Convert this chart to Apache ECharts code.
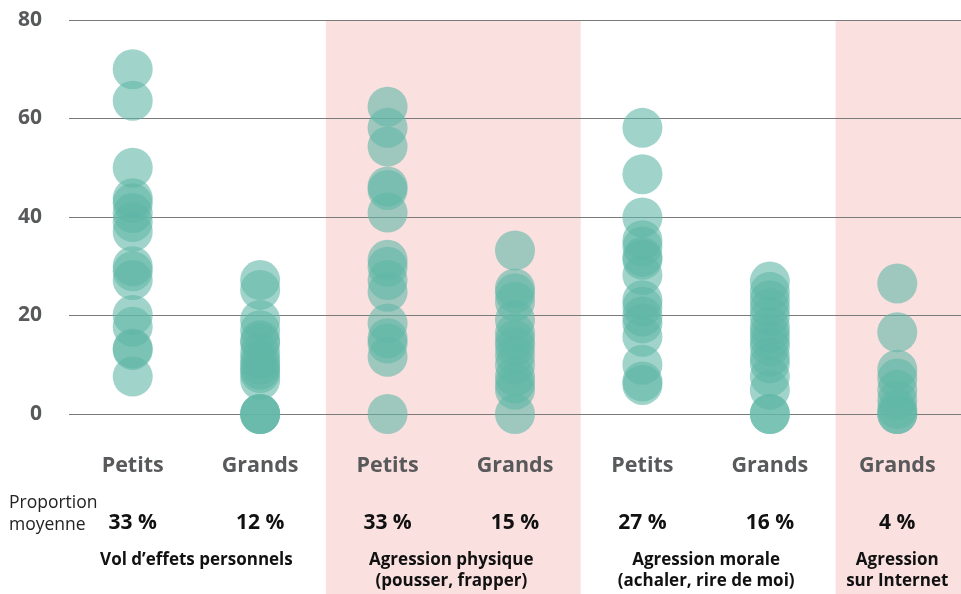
<!DOCTYPE html>
<html>
<head>
<meta charset="utf-8">
<script src="https://cdn.jsdelivr.net/npm/echarts@6/dist/echarts.min.js"></script>
<style>
html,body{margin:0;padding:0;background:#fff;}
#chart{width:961px;height:594px;}
</style>
</head>
<body>
<div id="chart"></div>
<script>
var categories = ['Petits', 'Grands', 'Petits', 'Grands', 'Petits', 'Grands', 'Grands'];
var averages = ['33 %', '12 %', '33 %', '15 %', '27 %', '16 %', '4 %'];
var yTicks = [0, 20, 40, 60, 80];

var volPetits = [70, 63.6, 50, 43.8, 42.8, 40.8, 39, 37, 30, 29, 27.2, 20.1, 17.7, 13.3, 13, 7.6];
var volGrands = [27.2, 25.2, 19.1, 17, 15, 14.4, 12.4, 11, 10, 9, 8.3, 6.9, 0, 0, 0];
var physPetits = [62.4, 58.1, 54.3, 46.2, 45.5, 40.9, 31.3, 29.9, 27.2, 24.8, 18.4, 15.4, 14.3, 11.6, 0];
var physGrands = [33.2, 25.5, 24.5, 22.8, 19.1, 16.4, 15, 13.7, 12, 10, 7.6, 6.2, 4.9, 0];
var moralPetits = [58.1, 48.7, 39.9, 35.3, 34, 31.9, 31.3, 28.2, 23.1, 21.8, 19.8, 18.4, 15.7, 10, 6.6, 5.9];
var moralGrands = [26.9, 24.8, 23.1, 21.5, 19.8, 17.7, 16.4, 15, 13.7, 11.6, 10.3, 7.6, 4.9, 0, 0];
var internetGrands = [26.5, 16.6, 9, 7.2, 4.9, 2.8, 1, 0, 0];

var columns = [volPetits, volGrands, physPetits, physGrands, moralPetits, moralGrands, internetGrands];

var groups = [
  {label: 'Vol d\u2019effets personnels', from: 0, to: 1, shaded: false},
  {label: 'Agression physique\n(pousser, frapper)', from: 2, to: 3, shaded: true},
  {label: 'Agression morale\n(achaler, rire de moi)', from: 4, to: 5, shaded: false},
  {label: 'Agression\nsur Internet', from: 6, to: 6, shaded: true}
];

var FONT = '"Open Sans", "Noto Sans", sans-serif';

var scatterData = [];
columns.forEach(function (vals, i) {
  vals.forEach(function (v) { scatterData.push([i, v]); });
});

var chart = echarts.init(document.getElementById('chart'));
var option = {
  animation: false,
  grid: {left: 69, right: -4, top: 20, bottom: 180, containLabel: false},
  xAxis: {
    type: 'category',
    data: categories,
    axisLine: {show: false},
    axisTick: {show: false},
    splitLine: {show: false},
    axisLabel: {
      interval: 0,
      margin: 39,
      verticalAlign: 'top',
      fontFamily: FONT,
      fontWeight: 'bold',
      fontSize: 21.5,
      lineHeight: 26,
      color: '#58595b'
    }
  },
  yAxis: {
    type: 'value',
    min: 0, max: 80, interval: 20,
    axisLine: {show: false},
    axisTick: {show: false},
    splitLine: {lineStyle: {color: '#7a7a7a', width: 1}},
    axisLabel: {
      margin: 27,
      align: 'right',
      fontFamily: FONT,
      fontWeight: 'bold',
      fontSize: 21,
      color: '#58595b'
    }
  },
  series: [{
    type: 'scatter',
    data: scatterData,
    symbolSize: 40,
    itemStyle: {color: 'rgb(96,183,166)', opacity: 0.6},
    z: 3
  }]
};
chart.setOption(option);

function px(idx, val) { return chart.convertToPixel({xAxisIndex: 0, yAxisIndex: 0}, [idx, val]); }

var graphics = [];
var topY = px(0, 80)[1] + 1;
var zeroY = px(0, 0)[1];
var step = px(1, 0)[0] - px(0, 0)[0];
groups.forEach(function (g) {
  var x1 = px(g.from, 0)[0] - step / 2;
  var x2 = px(g.to, 0)[0] + step / 2;
  var midX = (px(g.from, 0)[0] + px(g.to, 0)[0]) / 2;
  if (g.shaded) {
    graphics.push({
      type: 'rect', z: -10, silent: true,
      shape: {x: x1 + 2, y: topY, width: x2 - x1, height: 594 - topY},
      style: {fill: '#fbe0e0'}
    });
  }
  graphics.push({
    type: 'text', z: 10,
    x: midX, y: zeroY + 136,
    style: {
      text: g.label, fontFamily: FONT, fontWeight: 'bold', fontSize: 17,
      lineHeight: 21, fill: '#111', align: 'center', verticalAlign: 'top'
    }
  });
});
averages.forEach(function (a, i) {
  graphics.push({
    type: 'text', z: 10,
    x: px(i, 0)[0], y: zeroY + 109,
    style: {
      text: a, fontFamily: FONT, fontWeight: 'bold', fontSize: 21,
      fill: '#111', align: 'center', verticalAlign: 'middle'
    }
  });
});
graphics.push({
  type: 'text', z: 10, x: 9, y: zeroY + 78,
  style: {
    text: 'Proportion\nmoyenne', fontFamily: FONT, fontSize: 17.5, lineHeight: 22,
    fill: '#222', align: 'left', verticalAlign: 'top'
  }
});
chart.setOption({graphic: graphics});
</script>
</body>
</html>
